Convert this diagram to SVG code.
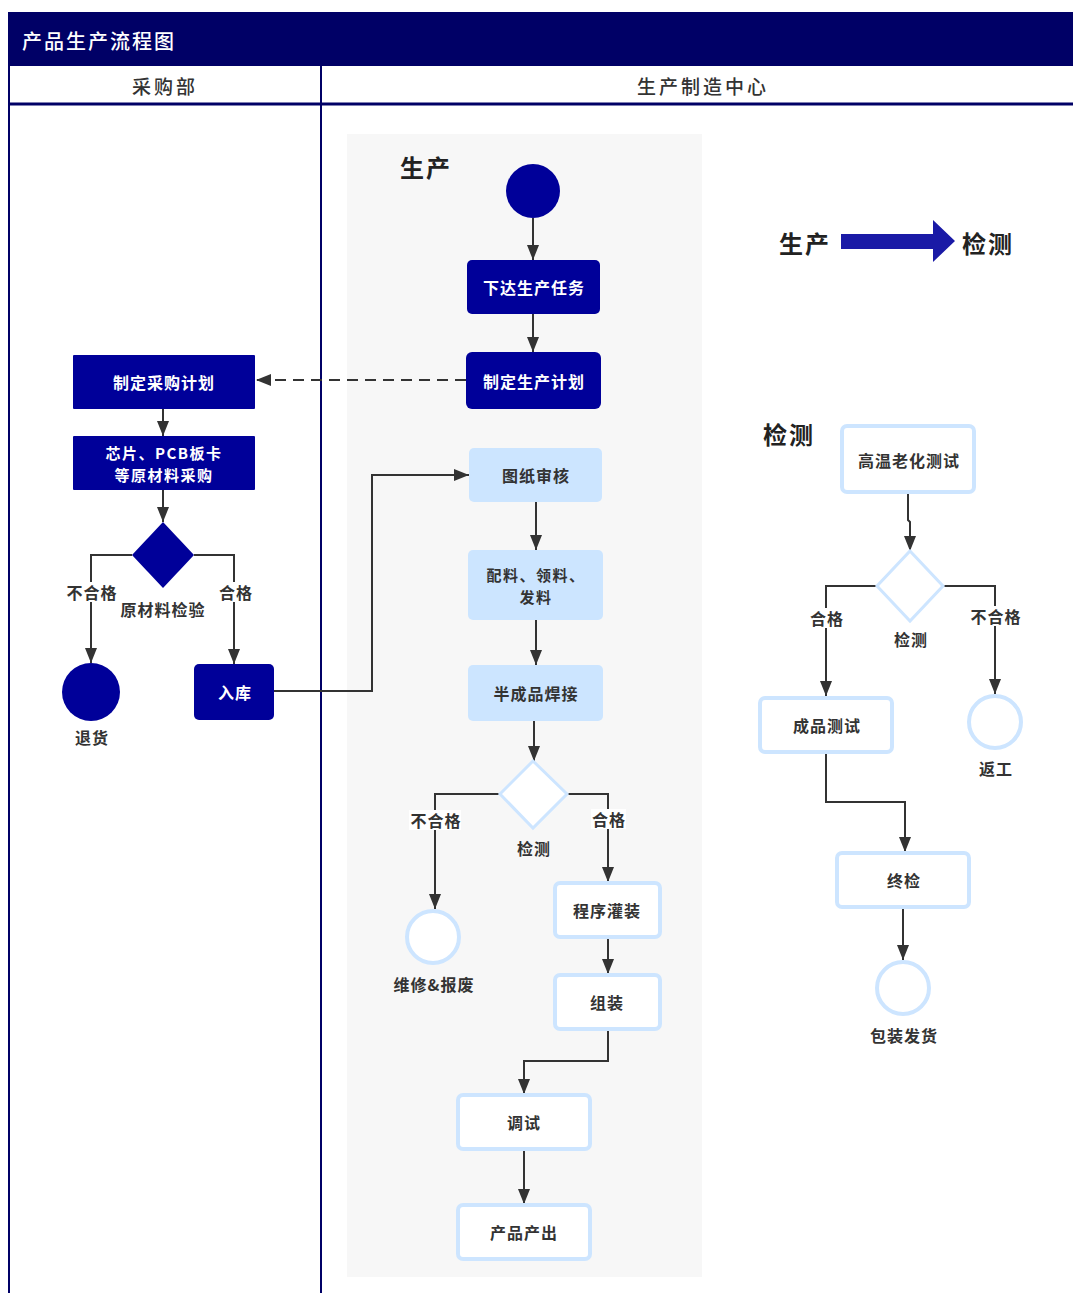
<svg xmlns="http://www.w3.org/2000/svg" width="1073" height="1293" viewBox="0 0 1073 1293">
<defs>
<marker id="ah" markerUnits="userSpaceOnUse" markerWidth="15" markerHeight="12" refX="15" refY="6" orient="auto">
<path d="M0,0 L15,6 L0,12 z" fill="#333"/>
</marker>
<style>
.cn{font-family:"Noto Sans CJK SC","Liberation Sans",sans-serif}
.nav{fill:#000099}
.nt{font-size:16px;font-weight:bold;fill:#fff;text-anchor:middle;dominant-baseline:central;letter-spacing:1px}
.lt{font-size:16px;font-weight:bold;fill:#333;text-anchor:middle;dominant-baseline:central;letter-spacing:1px}
.sm{font-size:15px;letter-spacing:1.5px}
.lb{fill:#fff;stroke:#cde5ff;stroke-width:4}
.lbf{fill:#cce5ff}
.edge{fill:none;stroke:#333;stroke-width:2;marker-end:url(#ah)}
.big{font-size:24px;font-weight:bold;fill:#222;letter-spacing:2px;dominant-baseline:central}
.lab{fill:#fff}
</style>
</defs>
<rect width="1073" height="1293" fill="#fff"/>
<g id="pool">
<rect x="8" y="12" width="1065" height="54" fill="#000066"/>
<text class="cn" x="22" y="40" font-size="20" font-weight="500" fill="#fff" letter-spacing="2" dominant-baseline="central">产品生产流程图</text>
<line x1="9" y1="66" x2="9" y2="1293" stroke="#000066" stroke-width="2"/>
<line x1="321" y1="66" x2="321" y2="1293" stroke="#000066" stroke-width="2"/>
<line x1="9" y1="104" x2="1073" y2="104" stroke="#000066" stroke-width="3"/>
<text class="cn" x="165" y="85" font-size="19" font-weight="500" fill="#333" letter-spacing="3" text-anchor="middle" dominant-baseline="central">采购部</text>
<text class="cn" x="703" y="85" font-size="19" font-weight="500" fill="#333" letter-spacing="3" text-anchor="middle" dominant-baseline="central">生产制造中心</text>
</g>
<rect id="panel" x="347" y="134" width="355" height="1143" fill="#f7f7f7"/>
<text class="cn big" x="400" y="166">生产</text>
<text class="cn big" x="763" y="433">检测</text>

<g id="legend">
<text class="cn big" x="779" y="242">生产</text>
<path d="M841,234 L933,234 L933,220 L955,241 L933,262 L933,249 L841,249 z" fill="#1a1aa6"/>
<text class="cn big" x="962" y="242">检测</text>
</g>

<g id="connectors">
<path class="edge" d="M533,218 L533,260"/>
<path class="edge" d="M533,314 L533,352"/>
<path class="edge" d="M466,380 L256,380" stroke-dasharray="11 7"/>
<path class="edge" d="M163,409 L163,436"/>
<path class="edge" d="M163,490 L163,522"/>
<path class="edge" d="M132,555 L91,555 L91,663"/>
<path class="edge" d="M194,555 L234,555 L234,664"/>
<path class="edge" d="M274,691 L372,691 L372,475 L469,475"/>
<path class="edge" d="M536,502 L536,550"/>
<path class="edge" d="M536,620 L536,665"/>
<path class="edge" d="M534,721 L534,761"/>
<path class="edge" d="M500,794 L435,794 L435,909"/>
<path class="edge" d="M567,794 L608,794 L608,882"/>
<path class="edge" d="M608,937 L608,974"/>
<path class="edge" d="M608,1029 L608,1061 L524,1061 L524,1094"/>
<path class="edge" d="M524,1149 L524,1204"/>
<path class="edge" d="M908,492 L908,520 L910,522 L910,551"/>
<path class="edge" d="M877,586 L826,586 L826,696"/>
<path class="edge" d="M943,586 L995,586 L995,694"/>
<path class="edge" d="M826,752 L826,802 L905,802 L905,852"/>
<path class="edge" d="M903,907 L903,960"/>
</g>

<g id="labels">
<rect class="lab" x="66" y="582" width="52" height="20"/>
<text class="cn lt" x="92" y="592">不合格</text>
<rect class="lab" x="218" y="582" width="35" height="20"/>
<text class="cn lt" x="236" y="592">合格</text>
<rect class="lab" x="409" y="810" width="52" height="20"/>
<text class="cn lt" x="436" y="820">不合格</text>
<rect class="lab" x="591" y="809" width="35" height="20"/>
<text class="cn lt" x="609" y="819">合格</text>
<rect class="lab" x="809" y="608" width="35" height="20"/>
<text class="cn lt" x="827" y="618">合格</text>
<rect class="lab" x="969" y="606" width="52" height="20"/>
<text class="cn lt" x="996" y="616">不合格</text>
</g>

<g id="start"><circle class="nav" cx="533" cy="191" r="27"/></g>
<g id="n-task"><rect class="nav" x="467" y="260" width="133" height="54" rx="5"/><text class="cn nt" x="534" y="287">下达生产任务</text></g>
<g id="n-plan"><rect class="nav" x="466" y="352" width="135" height="57" rx="6"/><text class="cn nt" x="534" y="381">制定生产计划</text></g>
<g id="n-purchase-plan"><rect class="nav" x="73" y="355" width="182" height="54" rx="1"/><text class="cn nt" x="164" y="382">制定采购计划</text></g>
<g id="n-purchase"><rect class="nav" x="73" y="436" width="182" height="54" rx="1"/><text class="cn nt sm" x="164" y="452">芯片、PCB板卡</text><text class="cn nt sm" x="164" y="474">等原材料采购</text></g>
<g id="d-material"><path class="nav" d="M163,522 L194,555 L163,588 L132,555 z"/><text class="cn lt" x="163" y="609">原材料检验</text></g>
<g id="e-return"><circle class="nav" cx="91" cy="692" r="29"/><text class="cn lt" x="92" y="737">退货</text></g>
<g id="n-stock"><rect class="nav" x="194" y="664" width="80" height="56" rx="5"/><text class="cn nt" x="235" y="692">入库</text></g>

<g id="n-review"><rect class="lbf" x="469" y="448" width="133" height="54" rx="5"/><text class="cn lt" x="536" y="475">图纸审核</text></g>
<g id="n-material"><rect class="lbf" x="468" y="550" width="135" height="70" rx="5"/><text class="cn lt sm" x="536" y="574">配料、领料、</text><text class="cn lt sm" x="536" y="596">发料</text></g>
<g id="n-weld"><rect class="lbf" x="468" y="665" width="135" height="56" rx="5"/><text class="cn lt" x="536" y="693">半成品焊接</text></g>
<g id="d-check1"><path d="M533,761 L567,794 L533,828 L500,794 z" fill="#fff" stroke="#cde5ff" stroke-width="3"/><text class="cn lt" x="534" y="848">检测</text></g>
<g id="e-repair"><circle class="lb" cx="433" cy="937" r="26"/><text class="cn lt" x="434" y="984">维修&amp;报废</text></g>
<g id="n-program"><rect class="lb" x="555" y="883" width="105" height="54" rx="5"/><text class="cn lt" x="607" y="910">程序灌装</text></g>
<g id="n-assemble"><rect class="lb" x="555" y="975" width="105" height="54" rx="5"/><text class="cn lt" x="607" y="1002">组装</text></g>
<g id="n-debug"><rect class="lb" x="458" y="1095" width="132" height="54" rx="5"/><text class="cn lt" x="524" y="1122">调试</text></g>
<g id="n-output"><rect class="lb" x="458" y="1205" width="132" height="54" rx="5"/><text class="cn lt" x="524" y="1232">产品产出</text></g>

<g id="n-aging"><rect class="lb" x="842" y="426" width="132" height="66" rx="5"/><text class="cn lt" x="909" y="460">高温老化测试</text></g>
<g id="d-check2"><path d="M910,551 L943,586 L910,621 L877,586 z" fill="#fff" stroke="#cde5ff" stroke-width="3"/><text class="cn lt" x="911" y="639">检测</text></g>
<g id="n-final-test"><rect class="lb" x="760" y="698" width="132" height="54" rx="5"/><text class="cn lt" x="827" y="725">成品测试</text></g>
<g id="e-rework"><circle class="lb" cx="995" cy="722" r="26"/><text class="cn lt" x="996" y="768">返工</text></g>
<g id="n-final-check"><rect class="lb" x="837" y="853" width="132" height="54" rx="5"/><text class="cn lt" x="904" y="880">终检</text></g>
<g id="e-ship"><circle class="lb" cx="903" cy="988" r="26"/><text class="cn lt" x="904" y="1035">包装发货</text></g>
</svg>
